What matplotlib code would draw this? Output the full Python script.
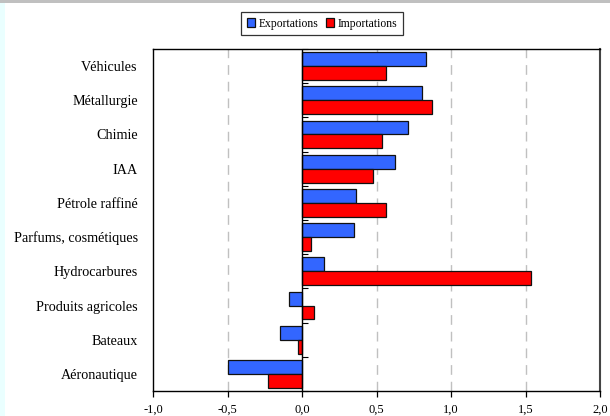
import matplotlib
matplotlib.use("Agg")
import matplotlib.pyplot as plt
import numpy as np
from matplotlib.patches import Rectangle

categories = ["Véhicules", "Métallurgie", "Chimie", "IAA", "Pétrole raffiné",
              "Parfums, cosmétiques", "Hydrocarbures", "Produits agricoles",
              "Bateaux", "Aéronautique"]
exportations = [0.835, 0.805, 0.71, 0.625, 0.36, 0.35, 0.145, -0.085, -0.145, -0.495]
importations = [0.565, 0.875, 0.535, 0.475, 0.565, 0.06, 1.54, 0.08, -0.03, -0.225]
xticks = [-1.0, -0.5, 0.0, 0.5, 1.0, 1.5, 2.0]
xticklabels = ["-1,0", "-0,5", "0,0", "0,5", "1,0", "1,5", "2,0"]

plt.rcParams['font.family'] = ['Liberation Serif', 'DejaVu Serif']

fig = plt.figure(figsize=(6.10, 4.16), dpi=100)
fig.patch.set_facecolor('white')
# decorations: top grey line and left cyan strip
fig.patches.append(Rectangle((0, 1 - 3/416), 1, 3/416, transform=fig.transFigure,
                             facecolor='#c0c0c0', edgecolor='none', zorder=0))
fig.patches.append(Rectangle((0, 0), 5/610, 1 - 3/416, transform=fig.transFigure,
                             facecolor='#eaffff', edgecolor='none', zorder=0))

ax = fig.add_axes([153/610, 1 - 391/416, (600 - 153)/610, (391 - 49)/416])

n = len(categories)
y = np.arange(n)[::-1].astype(float)  # first category at top
h = 0.405
blue = '#3366ff'
red = '#ff0000'
ax.barh(y + h/2, exportations, height=h, color=blue, edgecolor='#111111',
        linewidth=0.9, zorder=3, label='Exportations')
ax.barh(y - h/2, importations, height=h, color=red, edgecolor='#111111',
        linewidth=0.9, zorder=3, label='Importations')

ax.set_xlim(-1.0, 2.0)
ax.set_ylim(-0.5, n - 0.5)
ax.set_xticks(xticks)
ax.set_xticklabels(xticklabels, fontsize=9)
ax.set_yticks(y)
ax.set_yticklabels(categories, fontsize=10.2)
ax.tick_params(axis='y', length=0, pad=11)
ax.tick_params(axis='x', direction='out', length=4, width=0.9, pad=5, color='black')

for xv in [-0.5, 0.5, 1.0, 1.5]:
    ax.axvline(xv, color='#c0c0c0', linestyle=(0, (7, 5)), linewidth=1.0, zorder=1)
ax.axvline(0, color='black', linewidth=1.0, zorder=4)

for s in ax.spines.values():
    s.set_linewidth(1.0)
    s.set_color('black')
ax.spines['right'].set_color('#444444')
ax.spines['right'].set_linewidth(1.5)

# small tick marks at category boundaries on the zero axis
sec = ax.secondary_yaxis(1/3)
sec.set_yticks(np.arange(-0.5, n, 1.0))
sec.set_yticklabels([])
sec.tick_params(direction='in', length=4, width=0.8)
sec.spines['left'].set_visible(False)

handles = [Rectangle((0, 0), 1, 1, facecolor=blue, edgecolor='#111111', linewidth=0.9),
           Rectangle((0, 0), 1, 1, facecolor=red, edgecolor='#111111', linewidth=0.9)]
leg = fig.legend(handles, ['Exportations', 'Importations'], loc='center',
                 bbox_to_anchor=(322/610, 1 - 23.5/416), ncol=2, fontsize=8.4,
                 frameon=True, fancybox=False, edgecolor='black',
                 handlelength=0.7, handleheight=0.7, handletextpad=0.3,
                 columnspacing=0.6, borderpad=0.5, borderaxespad=0)
leg.get_frame().set_linewidth(0.9)

fig.savefig('out.png', dpi=100)
